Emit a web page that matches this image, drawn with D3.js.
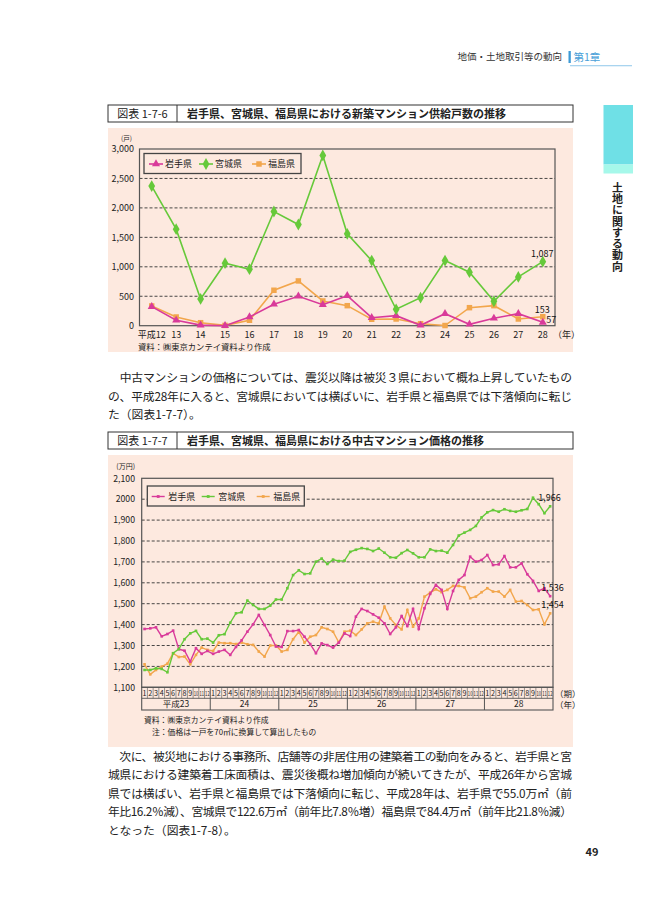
<!DOCTYPE html>
<html><head><meta charset="utf-8">
<script src="https://cdn.jsdelivr.net/npm/d3@7"></script>
<style>
html,body{margin:0;padding:0;background:#fff;}
svg{display:block;font-family:"Noto Sans CJK JP","Noto Sans",sans-serif;}
</style></head><body>
<svg id="page" width="669" height="916"></svg>
<script>
// ---------- Chart 1 data ----------
const years1 = ["平成12","13","14","15","16","17","18","19","20","21","22","23","24","25","26","27","28"];
const iwate1 = [323,92,10,0,148,364,500,357,510,136,170,7,204,24,126,204,57];
const miyagi1 = [2370,1639,454,1061,959,1939,1718,2891,1560,1105,279,476,1105,908,415,828,1087];
const fukushima1 = [335,148,51,5,92,602,760,420,340,109,114,34,3,306,340,114,153];
const yTicks1 = [0,500,1000,1500,2000,2500,3000];
const yTickLabels1 = ["0","500","1,000","1,500","2,000","2,500","3,000"];

// ---------- Chart 2 data ----------
const years2 = ["平成23","24","25","26","27","28"];
const monthLabels2 = ["1","2","3","4","5","6","7","8","9","10","11","12"];
const iwate2 = [
 1379,1382,1387,1344,1355,1371,1282,1275,1223,1287,1260,1274,
 1260,1271,1279,1255,1293,1325,1366,1401,1446,1398,1350,1295,
 1293,1369,1369,1374,1342,1307,1263,1310,1302,1290,1314,1358,
 1345,1438,1475,1465,1449,1433,1406,1355,1387,1441,1393,1475,
 1379,1478,1547,1590,1566,1475,1561,1614,1637,1725,1701,1709,
 1733,1685,1688,1728,1674,1674,1693,1641,1609,1561,1574,1536];
const miyagi2 = [
 1183,1183,1191,1188,1172,1263,1283,1330,1358,1370,1330,1333,
 1314,1349,1354,1409,1454,1459,1515,1494,1475,1475,1491,1520,
 1520,1574,1637,1660,1642,1645,1701,1716,1690,1711,1704,1706,
 1748,1758,1766,1762,1752,1764,1744,1722,1720,1742,1757,1741,
 1722,1722,1760,1752,1754,1744,1781,1826,1840,1853,1872,1913,
 1937,1948,1940,1952,1944,1940,1947,1953,2007,1976,1933,1966];
const fukushima2 = [
 1210,1162,1183,1199,1213,1263,1245,1247,1210,1255,1290,1279,
 1274,1314,1311,1311,1307,1314,1306,1303,1271,1247,1300,1300,
 1271,1279,1330,1366,1314,1342,1350,1387,1379,1366,1315,1366,
 1371,1350,1377,1406,1414,1406,1486,1430,1398,1377,1470,1390,
 1430,1534,1553,1569,1555,1566,1585,1585,1578,1526,1534,1555,
 1574,1558,1558,1534,1566,1510,1513,1494,1470,1473,1401,1454];
const yTicks2 = [1100,1200,1300,1400,1500,1600,1700,1800,1900,2000,2100];
const yTickLabels2 = ["1,100","1,200","1,300","1,400","1,500","1,600","1,700","1,800","1,900","2000","2,100"];

const seriesNames = ["岩手県","宮城県","福島県"];
const colors = ["#d93a9a","#66c93a","#f2a64c"];

const svg = d3.select("#page");
const DARK = "#333";

// ---------- Header ----------
svg.append("text").attr("x",562).attr("y",60).attr("text-anchor","end")
  .attr("font-size",9.5).attr("fill","#333").text("地価・土地取引等の動向");
svg.append("rect").attr("x",568.5).attr("y",51).attr("width",2.3).attr("height",12).attr("fill","#3d9ad6");
svg.append("text").attr("x",573.5).attr("y",60.5).attr("font-size",10.5).attr("fill","#4a9fd8").text("第1章");
svg.append("rect").attr("x",570).attr("y",65).attr("width",62).attr("height",1.3).attr("fill","#a9d4ef");

// side tab
svg.append("rect").attr("x",603.5).attr("y",105).attr("width",29.5).attr("height",59.5).attr("fill","#6fe0e6");
svg.append("rect").attr("x",603.5).attr("y",164.5).attr("width",29.5).attr("height",9).attr("fill","#a6f8ea");
svg.append("text").attr("x",617.5).attr("y",182)
  .style("writing-mode","vertical-rl").style("letter-spacing","0.3px")
  .attr("font-size",11).attr("font-weight","bold").attr("fill","#222").text("土地に関する動向");

// page number
svg.append("text").attr("x",592).attr("y",856).attr("text-anchor","middle")
  .attr("font-size",11).attr("font-weight","bold").attr("fill","#222").text("49");

// ---------- title boxes ----------
function titleBox(y, label, title){
  const g = svg.append("g");
  g.append("rect").attr("x",108).attr("y",y).attr("width",465).attr("height",17)
    .attr("fill","#fff").attr("stroke",DARK).attr("stroke-width",1);
  g.append("line").attr("x1",177).attr("x2",177).attr("y1",y).attr("y2",y+17).attr("stroke",DARK);
  g.append("text").attr("x",142.5).attr("y",y+12.8).attr("text-anchor","middle")
    .attr("font-size",11).attr("fill","#222").text(label);
  g.append("text").attr("x",187).attr("y",y+12.8)
    .attr("font-size",11).attr("font-weight","bold").attr("fill","#222").text(title);
}
titleBox(105,"図表 1-7-6","岩手県、宮城県、福島県における新築マンション供給戸数の推移");
titleBox(432,"図表 1-7-7","岩手県、宮城県、福島県における中古マンション価格の推移");

// backgrounds
svg.append("rect").attr("x",108).attr("y",128).attr("width",465).attr("height",224).attr("fill","#fde9df");
svg.append("rect").attr("x",108).attr("y",455).attr("width",465).attr("height",292).attr("fill","#fde9df");

// ---------- paragraphs ----------
function para(lines, y0, dy){
  lines.forEach((l,i)=>{
    const t = svg.append("text").attr("x",108).attr("y",y0+i*dy)
      .attr("font-size",11.8).attr("fill","#222").text(l);
    if(i < lines.length-1) t.attr("textLength",464).attr("lengthAdjust","spacing");
  });
}
para(["　中古マンションの価格については、震災以降は被災３県において概ね上昇していたもの",
      "の、平成28年に入ると、宮城県においては横ばいに、岩手県と福島県では下落傾向に転じ",
      "た（図表1-7-7）。"], 382, 18.7);
para(["　次に、被災地における事務所、店舗等の非居住用の建築着工の動向をみると、岩手県と宮",
      "城県における建築着工床面積は、震災後概ね増加傾向が続いてきたが、平成26年から宮城",
      "県では横ばい、岩手県と福島県では下落傾向に転じ、平成28年は、岩手県で55.0万㎡（前",
      "年比16.2％減）、宮城県で122.6万㎡（前年比7.8％増）福島県で84.4万㎡（前年比21.8％減）",
      "となった（図表1-7-8）。"], 761, 18.4);

// ---------- Chart 1 ----------
(function(){
  const L=139.5, R=555, T=149, B=325.7;
  const x = d3.scalePoint().domain(years1).range([L,R]).padding(0.5);
  const y = d3.scaleLinear().domain([0,3000]).range([B,T]);
  const g = svg.append("g");
  yTicks1.filter(v=>v>0 && v<3000).forEach(v=>{
    g.append("line").attr("x1",L).attr("x2",R).attr("y1",y(v)).attr("y2",y(v))
      .attr("stroke","#333").attr("stroke-width",0.9).attr("stroke-dasharray","3,2");
  });
  g.append("rect").attr("x",L).attr("y",T).attr("width",R-L).attr("height",B-T)
    .attr("fill","none").attr("stroke","#555").attr("stroke-width",1.2);
  yTicks1.forEach((v,i)=>{
    g.append("text").attr("x",134).attr("y",y(v)+3.3).attr("text-anchor","end")
      .attr("font-size",9).attr("fill","#222").text(yTickLabels1[i]);
  });
  g.append("text").attr("x",132).attr("y",140.5).attr("text-anchor","end").attr("font-size",6.5).attr("fill","#222").text("(戸)");
  years1.forEach(d=>{
    g.append("text").attr("x",x(d)).attr("y",337.5).attr("text-anchor","middle")
      .attr("font-size",9).attr("fill","#222").text(d);
  });
  g.append("text").attr("x",553).attr("y",337.5).attr("font-size",9).attr("fill","#222").text("（年）");
  g.append("text").attr("x",138).attr("y",350).attr("font-size",8.3).attr("fill","#222")
    .text("資料：㈱東京カンテイ資料より作成");

  const sets = [iwate1, miyagi1, fukushima1];
  const syms = [d3.symbolTriangle, d3.symbolDiamond, d3.symbolSquare];
  const sizes = [28, 40, 30];
  const line = d3.line().x((d,i)=>x(years1[i])).y(d=>y(d));
  [2,0,1].forEach(k=>{
    g.append("path").attr("d",line(sets[k])).attr("fill","none")
      .attr("stroke",colors[k]).attr("stroke-width",1.6);
    sets[k].forEach((v,i)=>{
      g.append("path").attr("d",d3.symbol().type(syms[k]).size(sizes[k])())
        .attr("transform",`translate(${x(years1[i])},${y(v)})`).attr("fill",colors[k]);
    });
  });
  const last = years1.length-1;
  const fmt = d3.format(",");
  g.append("text").attr("x",x(years1[last])-0.5).attr("y",y(miyagi1[last])-4.5).attr("text-anchor","middle")
    .attr("font-size",9).attr("fill","#111").text(fmt(miyagi1[last]));
  g.append("text").attr("x",x(years1[last])-0.5).attr("y",y(fukushima1[last])-3.5).attr("text-anchor","middle")
    .attr("font-size",9).attr("fill","#111").text(fmt(fukushima1[last]));
  g.append("text").attr("x",x(years1[last])+3.5).attr("y",y(iwate1[last])+1)
    .attr("font-size",9).attr("fill","#111").text(fmt(iwate1[last]));

  const lg = g.append("g");
  lg.append("rect").attr("x",144).attr("y",153.5).attr("width",157).attr("height",20)
    .attr("fill","#fde9df").attr("stroke","#444").attr("stroke-width",1.3);
  const lx=[149,199,252];
  seriesNames.forEach((n,k)=>{
    lg.append("line").attr("x1",lx[k]).attr("x2",lx[k]+14).attr("y1",164).attr("y2",164)
      .attr("stroke",colors[k]).attr("stroke-width",1.6);
    lg.append("path").attr("d",d3.symbol().type(syms[k]).size(sizes[k])())
      .attr("transform",`translate(${lx[k]+7},164)`).attr("fill",colors[k]);
    lg.append("text").attr("x",lx[k]+16).attr("y",167.3).attr("font-size",9).attr("fill","#222").text(n);
  });
})();

// ---------- Chart 2 ----------
(function(){
  const L=141.7, R=553, T=478.3, B=687.3;
  const idx = d3.range(iwate2.length);
  const x = d3.scaleBand().domain(idx).range([L,R]).padding(0);
  const y = d3.scaleLinear().domain([1100,2100]).range([B,T]);
  const g = svg.append("g");
  const cx = i => x(i)+x.bandwidth()/2;
  yTicks2.filter(v=>v>1100 && v<2100).forEach(v=>{
    g.append("line").attr("x1",L).attr("x2",R).attr("y1",y(v)).attr("y2",y(v))
      .attr("stroke","#333").attr("stroke-width",0.9).attr("stroke-dasharray","3,2");
  });
  g.append("rect").attr("x",L).attr("y",T).attr("width",R-L).attr("height",B-T)
    .attr("fill","none").attr("stroke","#555").attr("stroke-width",1.2);
  yTicks2.forEach((v,i)=>{
    g.append("text").attr("x",135).attr("y",y(v)+3.2).attr("text-anchor","end")
      .attr("font-size",8.7).attr("fill","#222").text(yTickLabels2[i]);
  });
  g.append("text").attr("x",135).attr("y",468.5).attr("text-anchor","end").attr("font-size",7).attr("fill","#222").text("(万円)");

  const rowTop=B, rowMid=698.3, rowBot=710;
  g.append("rect").attr("x",L).attr("y",rowTop).attr("width",R-L).attr("height",rowBot-rowTop)
    .attr("fill","none").attr("stroke","#555").attr("stroke-width",1.1);
  g.append("line").attr("x1",L).attr("x2",R).attr("y1",rowMid).attr("y2",rowMid).attr("stroke","#555").attr("stroke-width",0.9);
  idx.forEach(i=>{
    if(i>0){
      const yr = i%12===0;
      g.append("line").attr("x1",x(i)).attr("x2",x(i)).attr("y1",rowTop).attr("y2",yr?rowBot:rowMid)
        .attr("stroke","#555").attr("stroke-width",yr?1:0.6);
    }
    const lab = monthLabels2[i%12];
    const t = g.append("text").attr("x",cx(i)).attr("y",696).attr("text-anchor","middle")
      .attr("font-size",lab.length>1?6.2:7.2).attr("fill","#222").text(lab);
    if(lab.length>1) t.attr("textLength",4.6).attr("lengthAdjust","spacingAndGlyphs");
  });
  years2.forEach((yv,k)=>{
    g.append("text").attr("x",(x(k*12)+x(k*12+11)+x.bandwidth())/2).attr("y",707.3).attr("text-anchor","middle")
      .attr("font-size",8.5).attr("fill","#222").text(yv);
  });
  g.append("text").attr("x",555).attr("y",696.5).attr("font-size",8.5).attr("fill","#222").text("（期）");
  g.append("text").attr("x",555).attr("y",707.5).attr("font-size",8.5).attr("fill","#222").text("（年）");
  g.append("text").attr("x",144).attr("y",723).attr("font-size",7.8).attr("fill","#222").text("資料：㈱東京カンテイ資料より作成");
  g.append("text").attr("x",152).attr("y",734.5).attr("font-size",7.8).attr("fill","#222").text("注：価格は一戸を70㎡に換算して算出したもの");

  const sets=[iwate2, miyagi2, fukushima2];
  const line = d3.line().x((d,i)=>cx(i)).y(d=>y(d));
  [2,0,1].forEach(k=>{
    g.append("path").attr("d",line(sets[k])).attr("fill","none")
      .attr("stroke",colors[k]).attr("stroke-width",1.4);
    sets[k].forEach((v,i)=>{
      g.append("rect").attr("x",cx(i)-1.3).attr("y",y(v)-1.3).attr("width",2.6).attr("height",2.6).attr("fill",colors[k]);
    });
  });
  const last = iwate2.length-1;
  const fmt = d3.format(",");
  g.append("text").attr("x",cx(last)-12).attr("y",y(miyagi2[last])-5).attr("font-size",9).attr("fill","#111").text(fmt(miyagi2[last]));
  g.append("text").attr("x",cx(last)-9).attr("y",y(iwate2[last])-5).attr("font-size",9).attr("fill","#111").text(fmt(iwate2[last]));
  g.append("text").attr("x",cx(last)-9).attr("y",y(fukushima2[last])-5).attr("font-size",9).attr("fill","#111").text(fmt(fukushima2[last]));

  const lg = g.append("g");
  lg.append("rect").attr("x",147.3).attr("y",486).attr("width",157).attr("height",20)
    .attr("fill","#fde9df").attr("stroke","#444").attr("stroke-width",1.3);
  const lx=[151.7,201.7,256.7];
  seriesNames.forEach((n,k)=>{
    lg.append("line").attr("x1",lx[k]).attr("x2",lx[k]+13).attr("y1",496.5).attr("y2",496.5)
      .attr("stroke",colors[k]).attr("stroke-width",1.4);
    lg.append("rect").attr("x",lx[k]+6.5-1.4).attr("y",495.1).attr("width",2.8).attr("height",2.8).attr("fill",colors[k]);
    lg.append("text").attr("x",lx[k]+16.5).attr("y",499.8).attr("font-size",9).attr("fill","#222").text(n);
  });
})();
</script>
</body></html>
